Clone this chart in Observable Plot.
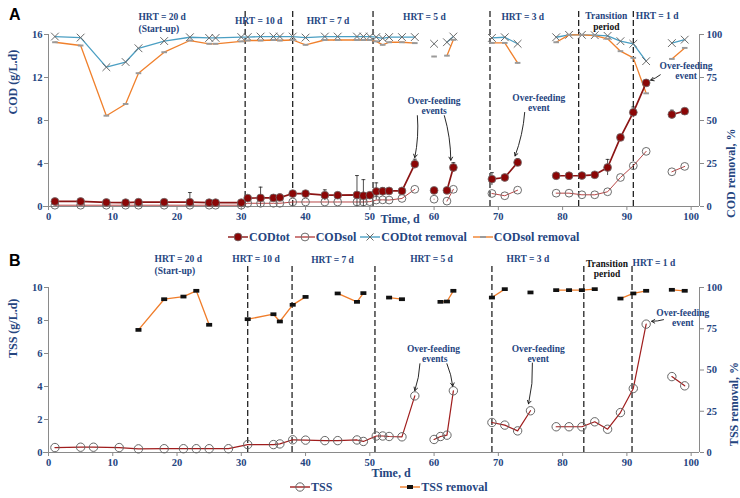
<!DOCTYPE html>
<html><head><meta charset="utf-8">
<script src="https://cdn.jsdelivr.net/npm/d3@7"></script>
<script src="https://cdn.jsdelivr.net/npm/@observablehq/plot@0.6"></script>
<style>
body{margin:0;background:#fff;}
#wrap{position:relative;width:740px;height:498px;overflow:hidden;background:#fff;font-family:"Liberation Serif","Times New Roman",serif;}
.panel{position:absolute;left:0;}
.tag{position:absolute;font-family:"Liberation Sans",Arial,sans-serif;font-weight:bold;font-size:16px;color:#000;line-height:1;}
.legend{position:absolute;display:flex;align-items:center;font-weight:bold;font-size:12px;color:#25457f;white-space:nowrap;height:18px;}
.legend svg{display:block}
</style></head>
<body><div id="wrap">
<div id="panelA" class="panel" style="top:0"></div>
<div id="panelB" class="panel" style="top:240px"></div>
<div class="tag" style="left:9px;top:7px">A</div>
<div class="tag" style="left:9px;top:253px">B</div>
<div id="legA" class="legend" style="left:228px;top:228px"></div>
<div id="legB" class="legend" style="left:290px;top:478px"></div>
</div>
<script>
// ---------- Panel A data (COD) ----------
const codDays = [1,5,9,12,14,18,22,25,26,30,31,33,35,36,38,40,43,45,48,49,50,51,52,53,55,57,60,62,63,69,71,73,79,81,83,85,87,89,91,93,97,99];
const codTot = [0.47,0.47,0.38,0.36,0.4,0.4,0.4,0.36,0.36,0.36,0.78,0.8,0.8,0.84,1.2,1.2,1.05,1.05,1.08,1.0,1.05,1.4,1.42,1.45,1.45,3.95,1.5,1.5,3.63,2.55,2.7,4.1,2.86,2.86,2.88,2.95,3.63,6.43,8.76,11.5,8.56,8.87];
const codTotErr = [0.25,0.25,0.1,0.1,0.1,0.1,0.9,0.1,0.1,0.12,0.2,1.0,0.3,0.3,0.2,0.1,0.5,0.1,1.8,1.5,0.2,0.8,0.35,0.2,0.1,0.45,0.1,0.1,0.45,0.6,0.15,0.35,0.1,0.1,0.1,0.15,0.75,0.2,0.5,0.3,0.4,0.2];
const codSol = [0.12,0.12,0.12,0.12,0.12,0.12,0.12,0.12,0.12,0.12,0.3,0.3,0.3,0.3,0.42,0.42,0.42,0.42,0.42,0.42,0.45,0.6,0.62,0.6,0.75,1.6,0.68,0.5,1.6,1.21,1.0,1.52,1.24,1.24,1.09,1.09,1.37,2.7,3.79,5.13,3.23,3.73];
const codTotRemoval = [98.8,98.2,81,84,92,96.2,98.4,98,98,98.5,98.5,98.8,98.8,98.8,98.8,98.2,98.8,98.8,98.8,98.8,98.8,98.5,97.8,98.5,98.5,98.5,94.6,95.5,98.8,98,98.4,94.6,98.4,99.8,99.8,99.6,99.2,96.1,94.6,84.5,95,97];
const codSolRemoval = [95.5,93.6,52.8,59.6,77.5,89.7,96.5,94.6,94.6,96,96.5,96.5,96.8,96.5,96.8,94,96.8,96.8,96.8,96.8,96.8,96,94,95.5,95.5,95,87.2,87.7,96.9,95.1,95.1,83.5,95.5,99.8,99.8,99.4,97.5,90.3,86.4,65.8,85.8,92.2];
const codBreaks = [60,62,69,79,97];
const hrtLinesA = [30.6,38,50.5,68.7,82.5,91];

// ---------- Panel B data (TSS) ----------
const tssDays = [1,5,7,11,14,18,21,23,25,28,31,35,36,38,40,43,45,48,49,51,52,53,55,57,60,61,62,63,69,71,73,75,79,81,83,85,87,89,91,93,97,99];
const tss = [0.3,0.32,0.32,0.3,0.22,0.23,0.23,0.23,0.23,0.23,0.48,0.48,0.52,0.77,0.75,0.72,0.72,0.76,0.67,1.0,1.0,0.97,0.95,3.43,0.79,0.97,1.05,3.74,1.82,1.66,1.31,2.53,1.56,1.56,1.56,1.86,1.41,2.42,3.88,7.78,4.6,4.04];
const tssBreaks = [60,69,79,97];
const tssRemDays = [14,18,21,23,25,31,35,36,38,40,45,48,49,53,55,61,62,63,69,71,75,79,81,83,85,89,91,93,97,99];
const tssRemoval = [74.3,92.9,94.5,98,77.4,80.8,83.8,79.4,89.5,94.3,96.4,91.3,96.6,93.9,92.9,91.3,91.5,98,93.9,99,97,98.4,98.4,98.4,99,93.3,96.4,98,98.6,98];
const tssRemBreaks = [31,45,53,61,69,75,79,89,97];
const hrtLinesB = [31,37.9,50.8,69,83.3,90.8];

const xTicks = [0,10,20,30,40,50,60,70,80,90,100];
const xMax = 101.3;

// ---------- annotations (data coordinates) ----------
const hrtTextA = [
  {t:"HRT = 20 d", x:14, y:17.6, a:"start", c:"#25457f"},
  {t:"(Start-up)", x:14, y:16.5, a:"start", c:"#25457f"},
  {t:"HRT = 10 d", x:32.7, y:17.3, a:"middle", c:"#25457f"},
  {t:"HRT = 7 d", x:43.5, y:17.3, a:"middle", c:"#25457f"},
  {t:"HRT = 5 d", x:58.5, y:17.6, a:"middle", c:"#25457f"},
  {t:"HRT = 3 d", x:73.8, y:17.6, a:"middle", c:"#25457f"},
  {t:"Transition", x:86.8, y:17.7, a:"middle", c:"#25457f"},
  {t:"period", x:86.8, y:16.7, a:"middle", c:"#111"},
  {t:"HRT = 1 d", x:94.7, y:17.7, a:"middle", c:"#25457f"}
];
const hrtTextB = [
  {t:"HRT = 20 d", x:16.5, y:11.7, a:"start", c:"#25457f"},
  {t:"(Start-up)", x:16.5, y:11.03, a:"start", c:"#25457f"},
  {t:"HRT = 10 d", x:32.3, y:11.7, a:"middle", c:"#25457f"},
  {t:"HRT = 7 d", x:44.2, y:11.65, a:"middle", c:"#25457f"},
  {t:"HRT = 5 d", x:59.6, y:11.7, a:"middle", c:"#25457f"},
  {t:"HRT = 3 d", x:74.6, y:11.7, a:"middle", c:"#25457f"},
  {t:"Transition", x:86.9, y:11.4, a:"middle", c:"#111"},
  {t:"period", x:86.9, y:10.8, a:"middle", c:"#111"},
  {t:"HRT = 1 d", x:94.2, y:11.5, a:"middle", c:"#25457f"}
];
const feedTextA = [
  {t:"Over-feeding", x:60, y:9.8, a:"middle"}, {t:"events", x:60, y:8.85, a:"middle"},
  {t:"Over-feeding", x:76.3, y:10.1, a:"middle"}, {t:"event", x:76.3, y:9.15, a:"middle"},
  {t:"Over-feeding", x:99.2, y:13.05, a:"middle"}, {t:"event", x:99.2, y:12.1, a:"middle"}
];
const feedArrowsA = [
  {x1:57.4,y1:8.45,x2:57.0,y2:4.55},
  {x1:61.6,y1:8.45,x2:62.6,y2:4.3},
  {x1:74.1,y1:8.75,x2:72.6,y2:4.7},
  {x1:95.2,y1:12.25,x2:93.7,y2:11.75}
];
const feedTextB = [
  {t:"Over-feeding", x:59.9, y:6.27, a:"middle"}, {t:"events", x:60.1, y:5.66, a:"middle"},
  {t:"Over-feeding", x:76.2, y:6.27, a:"middle"}, {t:"event", x:76.2, y:5.66, a:"middle"},
  {t:"Over-feeding", x:98.7, y:8.45, a:"middle"}, {t:"event", x:98.7, y:7.84, a:"middle"}
];
const feedArrowsB = [
  {x1:57.8,y1:5.38,x2:57.0,y2:3.75},
  {x1:62.0,y1:5.38,x2:62.9,y2:4.02},
  {x1:75.3,y1:5.42,x2:74.7,y2:2.95},
  {x1:95.7,y1:8.05,x2:93.85,y2:7.95}
];

// ---------- helpers ----------
const seg = (d, breaks) => breaks.filter(b => d >= b).length;
const blue = "#25457f";
const FONT = '"Liberation Serif","Times New Roman",serif';
const dashSym = {draw(ctx, size){ const s = Math.sqrt(size/Math.PI); ctx.rect(-s, -s*0.35, 2*s, s*0.7); }};
const sqSym = {draw(ctx, size){ const s = Math.sqrt(size/Math.PI); ctx.rect(-s, -s*0.62, 2*s, s*1.24); }};

const codRows = codDays.map((d,i)=>({day:d, tot:codTot[i], err:codTotErr[i], sol:codSol[i],
  totRem: codTotRemoval[i]*16/100, solRem: codSolRemoval[i]*16/100, seg: seg(d, codBreaks)}));
const tssRows = tssDays.map((d,i)=>({day:d, v:tss[i], seg: seg(d, tssBreaks)}));
const tssRemRows = tssRemDays.map((d,i)=>({day:d, v:tssRemoval[i]/10, seg: seg(d, tssRemBreaks)}));

function annot(list, size){
  return list.map(o => Plot.text([o], {x:"x", y:"y", text:"t", textAnchor:o.a, fill:o.c || blue,
    fontSize:size, fontWeight:"bold", fontFamily:FONT}));
}
const axisStyle = {stroke:"#8a8a8a", fill:blue, label:null, fontSize:10.5, fontWeight:"bold"};
function frameAxes(yMax, yTicks){
  return [
    Plot.ruleY([0], {x1:-0.8, x2:xMax, stroke:"#8a8a8a"}),
    Plot.ruleX([0], {y1:0, y2:yMax, stroke:"#8a8a8a"}),
    Plot.ruleX([xMax], {y1:0, y2:yMax, stroke:"#8a8a8a"}),
    Plot.axisX({ticks:xTicks, tickSize:4, tickPadding:2, ...axisStyle}),
    Plot.axisY({anchor:"left", ticks:yTicks, tickSize:4, tickPadding:2, ...axisStyle})
  ];
}

// ---------- Panel A ----------
const plotA = Plot.plot({
  width:740, height:228, marginLeft:48, marginRight:41, marginTop:34, marginBottom:22,
  style:{fontFamily:FONT, background:"transparent", overflow:"visible"},
  x:{domain:[0,xMax]}, y:{domain:[0,16]},
  marks:[
    Plot.ruleX(hrtLinesA, {x:d=>d, y1:0, y2:18.3, stroke:"#111", strokeWidth:1.2, strokeDasharray:"6,3"}),
    ...frameAxes(16, [0,4,8,12,16]),
    Plot.axisY({anchor:"right", ticks:[0,4,8,12,16], tickSize:4, tickPadding:3, tickFormat:d=>Math.round(d/16*100), ...axisStyle}),
    Plot.line(codRows, {x:"day", y:"totRem", z:"seg", stroke:"#4b9fc3", strokeWidth:1.3}),
    Plot.dot(codRows, {x:"day", y:"totRem", symbol:"times", r:3.6, stroke:"#6a6a6a", strokeWidth:1}),
    Plot.line(codRows, {x:"day", y:"solRem", z:"seg", stroke:"#f0802c", strokeWidth:1.3}),
    Plot.dot(codRows, {x:"day", y:"solRem", symbol:dashSym, r:2.8, fill:"#9a9a9a", stroke:"none"}),
    Plot.line(codRows, {x:"day", y:"sol", z:"seg", stroke:"#b84646", strokeWidth:1}),
    Plot.dot(codRows, {x:"day", y:"sol", r:3.9, stroke:"#6e6e6e", fill:"none", strokeWidth:1}),
    Plot.ruleX(codRows, {x:"day", y1:d=>Math.max(0, d.tot-d.err), y2:d=>d.tot+d.err, stroke:"#222", strokeWidth:0.8}),
    Plot.link(codRows, {x1:d=>d.day-0.3, x2:d=>d.day+0.3, y1:d=>d.tot+d.err, y2:d=>d.tot+d.err, stroke:"#222", strokeWidth:0.8}),
    Plot.line(codRows, {x:"day", y:"tot", z:"seg", stroke:"#8b1414", strokeWidth:1.7}),
    Plot.dot(codRows, {x:"day", y:"tot", r:3.9, fill:"#8b0606", stroke:"#6e6e6e", strokeWidth:0.8}),
    ...annot(hrtTextA, 9.5),
    ...annot(feedTextA, 9.5),
    Plot.arrow(feedArrowsA, {x1:"x1", y1:"y1", x2:"x2", y2:"y2", bend:8, stroke:"#111", strokeWidth:0.9, headLength:6}),
    Plot.text(["Time, d"], {x:()=>54.7, frameAnchor:"bottom", dy:16, fill:blue, fontSize:12, fontWeight:"bold", fontFamily:FONT}),
    Plot.text(["COD (g/L.d)"], {frameAnchor:"left", rotate:-90, dx:-35, dy:-6, fill:blue, fontSize:12, fontWeight:"bold", fontFamily:FONT}),
    Plot.text(["COD removal, %"], {frameAnchor:"right", rotate:-90, dx:32, dy:8, fill:blue, fontSize:12, fontWeight:"bold", fontFamily:FONT})
  ]
});
document.getElementById("panelA").appendChild(plotA);

// ---------- Panel B ----------
const plotB = Plot.plot({
  width:740, height:240, marginLeft:48, marginRight:41, marginTop:47, marginBottom:28,
  style:{fontFamily:FONT, background:"transparent", overflow:"visible"},
  x:{domain:[0,xMax]}, y:{domain:[0,10]},
  marks:[
    Plot.ruleX(hrtLinesB, {x:d=>d, y1:0, y2:11.45, stroke:"#111", strokeWidth:1.2, strokeDasharray:"6,3"}),
    ...frameAxes(10, [0,2,4,6,8,10]),
    Plot.axisY({anchor:"right", ticks:[0,2.5,5,7.5,10], tickSize:4, tickPadding:3, tickFormat:d=>Math.round(d*10), ...axisStyle}),
    Plot.line(tssRemRows, {x:"day", y:"v", z:"seg", stroke:"#f07d2a", strokeWidth:1.3}),
    Plot.dot(tssRemRows, {x:"day", y:"v", symbol:sqSym, r:3, fill:"#111", stroke:"none"}),
    Plot.line(tssRows, {x:"day", y:"v", z:"seg", stroke:"#a01d1d", strokeWidth:1.2}),
    Plot.dot(tssRows, {x:"day", y:"v", r:4.2, stroke:"#666", fill:"none", strokeWidth:1}),
    ...annot(hrtTextB, 9.5),
    ...annot(feedTextB, 9.5),
    Plot.arrow(feedArrowsB, {x1:"x1", y1:"y1", x2:"x2", y2:"y2", bend:8, stroke:"#111", strokeWidth:0.9, headLength:6}),
    Plot.text(["Time, d"], {x:()=>53.3, frameAnchor:"bottom", dy:24, fill:blue, fontSize:12, fontWeight:"bold", fontFamily:FONT}),
    Plot.text(["TSS (g/L.d)"], {frameAnchor:"left", rotate:-90, dx:-35, dy:-12, fill:blue, fontSize:12, fontWeight:"bold", fontFamily:FONT}),
    Plot.text(["TSS removal, %"], {frameAnchor:"right", rotate:-90, dx:35, dy:-8, fill:blue, fontSize:12, fontWeight:"bold", fontFamily:FONT})
  ]
});
document.getElementById("panelB").appendChild(plotB);

// ---------- Legends ----------
function sym(kind){
  const w = 20, h = 14, c = h/2;
  let s = `<svg width="${w}" height="${h}">`;
  const line = col => `<line x1="0" x2="${w}" y1="${c}" y2="${c}" stroke="${col}" stroke-width="1.4"/>`;
  if (kind==="tot") s += line("#8b1414") + `<circle cx="10" cy="${c}" r="3.9" fill="#8b0606" stroke="#6e6e6e" stroke-width="0.8"/>`;
  if (kind==="sol") s += line("#b84646") + `<circle cx="10" cy="${c}" r="3.9" fill="none" stroke="#6e6e6e"/>`;
  if (kind==="totRem") s += line("#4b9fc3") + `<path d="M6.5 ${c-3.5}L13.5 ${c+3.5}M13.5 ${c-3.5}L6.5 ${c+3.5}" stroke="#6a6a6a"/>`;
  if (kind==="solRem") s += line("#f0802c") + `<rect x="7" y="${c-1}" width="6" height="2" fill="#9a9a9a"/>`;
  if (kind==="tss") s += line("#a01d1d") + `<circle cx="10" cy="${c}" r="4.2" fill="none" stroke="#666"/>`;
  if (kind==="tssRem") s += line("#f07d2a") + `<rect x="7" y="${c-2}" width="6" height="4" fill="#111"/>`;
  return s + "</svg>";
}
const legA = [["tot","CODtot",5],["sol","CODsol",4],["totRem","CODtot removal",6],["solRem","CODsol removal",0]];
document.getElementById("legA").innerHTML = legA.map(([k,t,m]) =>
  `<span style="display:flex;align-items:center;margin-right:${m}px">${sym(k)}<span style="margin-left:1px">${t}</span></span>`).join("");
const legB = [["tss","TSS",68],["tssRem","TSS removal",0]];
document.getElementById("legB").innerHTML = legB.map(([k,t,m]) =>
  `<span style="display:flex;align-items:center;margin-right:${m}px">${sym(k)}<span style="margin-left:1px">${t}</span></span>`).join("");
</script>
</body></html>
